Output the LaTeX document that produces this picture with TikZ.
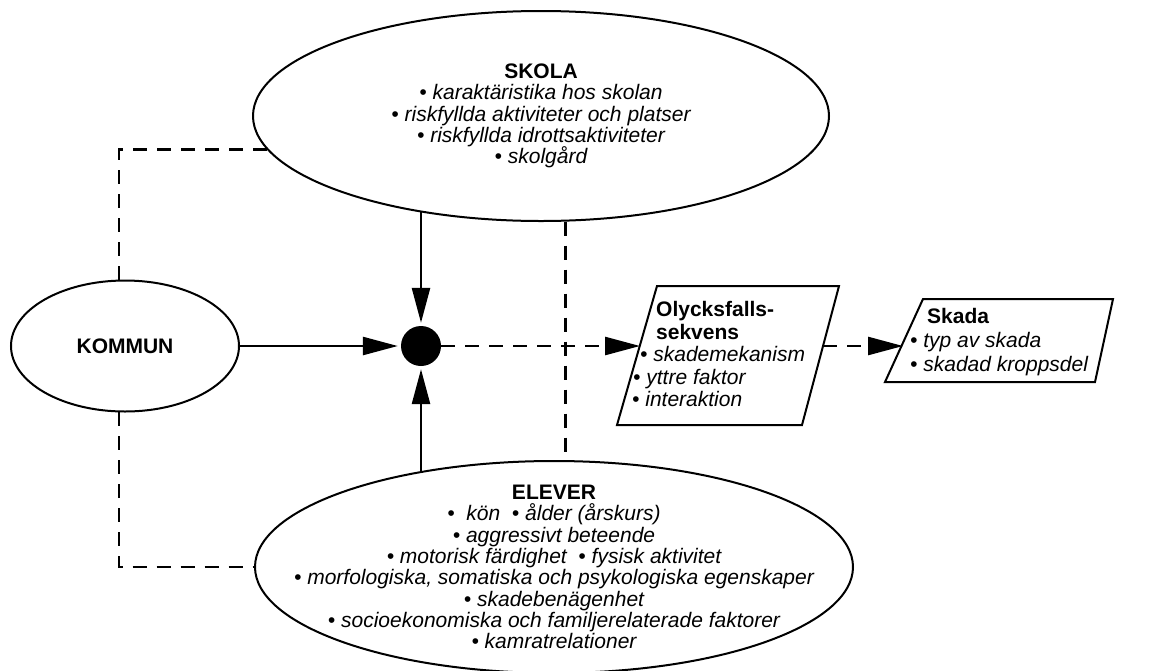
\documentclass[tikz,border=0pt]{standalone}
\usepackage{fontspec}
\setmainfont{Liberation Sans}
\usetikzlibrary{shapes.geometric,arrows.meta}

\begin{document}
\begin{tikzpicture}[x=1pt,y=-1pt,
    every node/.style={font=\fontsize{21}{21.3}\selectfont\itshape},
    area/.style={draw,ellipse,line width=2pt,inner sep=0pt,align=center},
    box/.style={draw,line width=2pt,line join=miter},
    boxtext/.style={align=left,inner sep=0pt,anchor=west},
    link/.style={line width=2.6pt,shorten >=3pt,-{Triangle[length=35pt,width=18pt]}},
    weak/.style={line width=2.6pt,dash pattern=on 14pt off 10pt},
    weaklink/.style={weak,-{Triangle[length=35pt,width=18pt]}}]
    \useasboundingbox (0,0) rectangle (1156,670);

    \node[area,minimum width=576pt,minimum height=210pt] (skola) at (541,116)
        {{\upshape\bfseries SKOLA}\\ • karaktäristika hos skolan\\
         • riskfyllda aktiviteter och platser\\ • riskfyllda idrottsaktiviteter\\
         • skolgård};
    \node[area,inner xsep=-100pt,inner ysep=-30pt,minimum width=598pt,minimum height=212pt]
        (elever) at (554,567)
        {{\upshape\bfseries ELEVER}\\ •\ \ kön\ \ • ålder (årskurs)\\
         • aggressivt beteende\\ • motorisk färdighet\ \ • fysisk aktivitet\\
         • morfologiska, somatiska och psykologiska egenskaper\\
         • skadebenägenhet\\ • socioekonomiska och familjerelaterade faktorer\\
         • kamratrelationer};
    \node[area,minimum width=228pt,minimum height=131pt,
        font=\fontsize{21}{21.3}\selectfont\bfseries] (kommun) at (125,346) {KOMMUN};
    \node[circle,fill,minimum size=40pt,inner sep=0pt] (dot) at (421,346) {};

    \draw[box] (617,425) -- (657,286) -- (839,286) -- (802,425) -- cycle;
    \node[boxtext,font=\fontsize{21}{22.5}\selectfont\itshape] (olycks) at (632,354)
        {\hspace*{24pt}{\upshape\bfseries Olycksfalls-}\\
         \hspace*{24pt}{\upshape\bfseries sekvens}\\
         \hspace*{8pt}• skademekanism\\ \hspace*{1pt}• yttre faktor\\ • interaktion};
    \draw[box] (885,382) -- (923,299) -- (1113,299) -- (1095,382) -- cycle;
    \node[boxtext,font=\fontsize{21}{24}\selectfont\itshape] (skada) at (910,342)
        {\hspace*{17pt}{\upshape\bfseries Skada}\\ • typ av skada\\ • skadad kroppsdel};
    \coordinate (olycksIn) at (640,346);
    \coordinate (olycksOut) at (823,346);
    \coordinate (skadaIn) at (903,346);

    \draw[link] (kommun) -- (dot);
    \draw[link] (dot |- skola.218) -- (dot);
    \draw[link] (dot |- elever.144) -- (dot);
    \draw[weaklink] (dot) -- (olycksIn);
    \draw[weaklink] (olycksOut) -- (skadaIn);
    \draw[weak] (kommun.95) |- (skola.187);
    \draw[weak] (kommun.265) |- (elever.west);
    \draw[weak] (skola.283) -- (skola.283 |- elever.north);
\end{tikzpicture}
\end{document}
